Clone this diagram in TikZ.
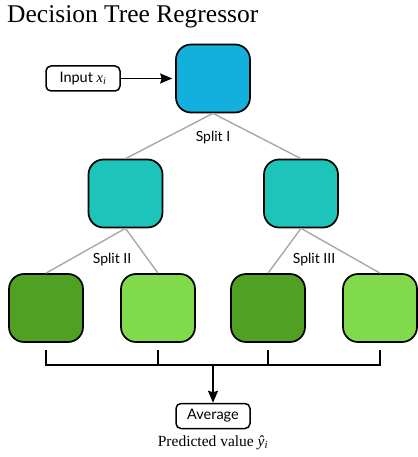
\documentclass[tikz,border=0pt]{standalone}
\usepackage{fontspec}
\setmainfont{Liberation Serif}
\newfontfamily\labelfont{Lato}
\usetikzlibrary{arrows.meta}
\definecolor{rootc}{HTML}{13B0DD}
\definecolor{midc}{HTML}{1DC4B9}
\definecolor{darkleaf}{HTML}{50A024}
\definecolor{lightleaf}{HTML}{80DA4C}
\definecolor{edgegray}{HTML}{A8A8A8}
\tikzset{
  treebox/.style={draw=black, line width=1.7pt, rounded corners=15pt, minimum width=74pt, minimum height=68pt, inner sep=0pt},
  smallbox/.style={draw=black, line width=1.5pt, rounded corners=5pt, minimum width=74pt, minimum height=25pt, inner sep=0pt, font=\labelfont\fontsize{14.5}{16}\selectfont},
  treeedge/.style={draw=edgegray, line width=1.4pt},
  splitlabel/.style={font=\labelfont\fontsize{14}{16}\selectfont, inner sep=0pt},
  bracket/.style={draw=black, line width=1.7pt},
  arrowline/.style={draw=black, line width=1.7pt, -{Stealth[length=12pt, width=10pt, inset=1.5pt]}}
}
\begin{document}
\begin{tikzpicture}[x=1pt, y=-1pt]
\useasboundingbox (0,0) rectangle (417,457);
\node[anchor=base west, inner sep=0pt, font=\fontsize{25.5}{29}\selectfont] (title) at (7,23) {Decision Tree Regressor};
\node[treebox, fill=rootc] (root) at (213,78.5) {};
\node[smallbox] (input) at (83,78.5) {Input {\rmfamily\itshape x\textsubscript{i}}};
\node[treebox, fill=midc] (midL) at (125.5,193.5) {};
\node[treebox, fill=midc] (midR) at (301,193.5) {};
\node[treebox, fill=darkleaf] (leafA) at (46,308) {};
\node[treebox, fill=lightleaf] (leafB) at (158,308) {};
\node[treebox, fill=darkleaf] (leafC) at (268,308) {};
\node[treebox, fill=lightleaf] (leafD) at (380,308) {};
\node[smallbox] (avg) at (213,416) {Average};
\node[inner sep=0pt, font=\fontsize{15.5}{18}\selectfont] (pred) at (213,443) {Predicted value \textit{ŷ\textsubscript{i}}};

\node[splitlabel] (s1) at (213,138) {Split I};
\node[splitlabel] (s2) at (112,260) {Split II};
\node[splitlabel] (s3) at (314,260) {Split III};

\draw[treeedge] (root.south) -- (midL.north);
\draw[treeedge] (root.south) -- (midR.north);
\draw[treeedge] (midL.south) -- (leafA.north);
\draw[treeedge] (midL.south) -- (leafB.north);
\draw[treeedge] (midR.south) -- (leafC.north);
\draw[treeedge] (midR.south) -- (leafD.north);

\draw[arrowline, shorten >=3pt] (input.east) -- (root.west);

\coordinate (ta) at (46,350);
\coordinate (tb) at (158,350);
\coordinate (tc) at (268,350);
\coordinate (td) at (380,350);
\coordinate (ba) at (46,365);
\coordinate (bb) at (158,365);
\coordinate (bc) at (268,365);
\coordinate (bd) at (380,365);
\coordinate (bm) at (213,365);
\draw[bracket] (ta) -- (ba) -- (bd) -- (td);
\draw[bracket] (tb) -- (bb);
\draw[bracket] (tc) -- (bc);
\draw[arrowline] (bm) -- (avg.north);
\end{tikzpicture}
\end{document}
